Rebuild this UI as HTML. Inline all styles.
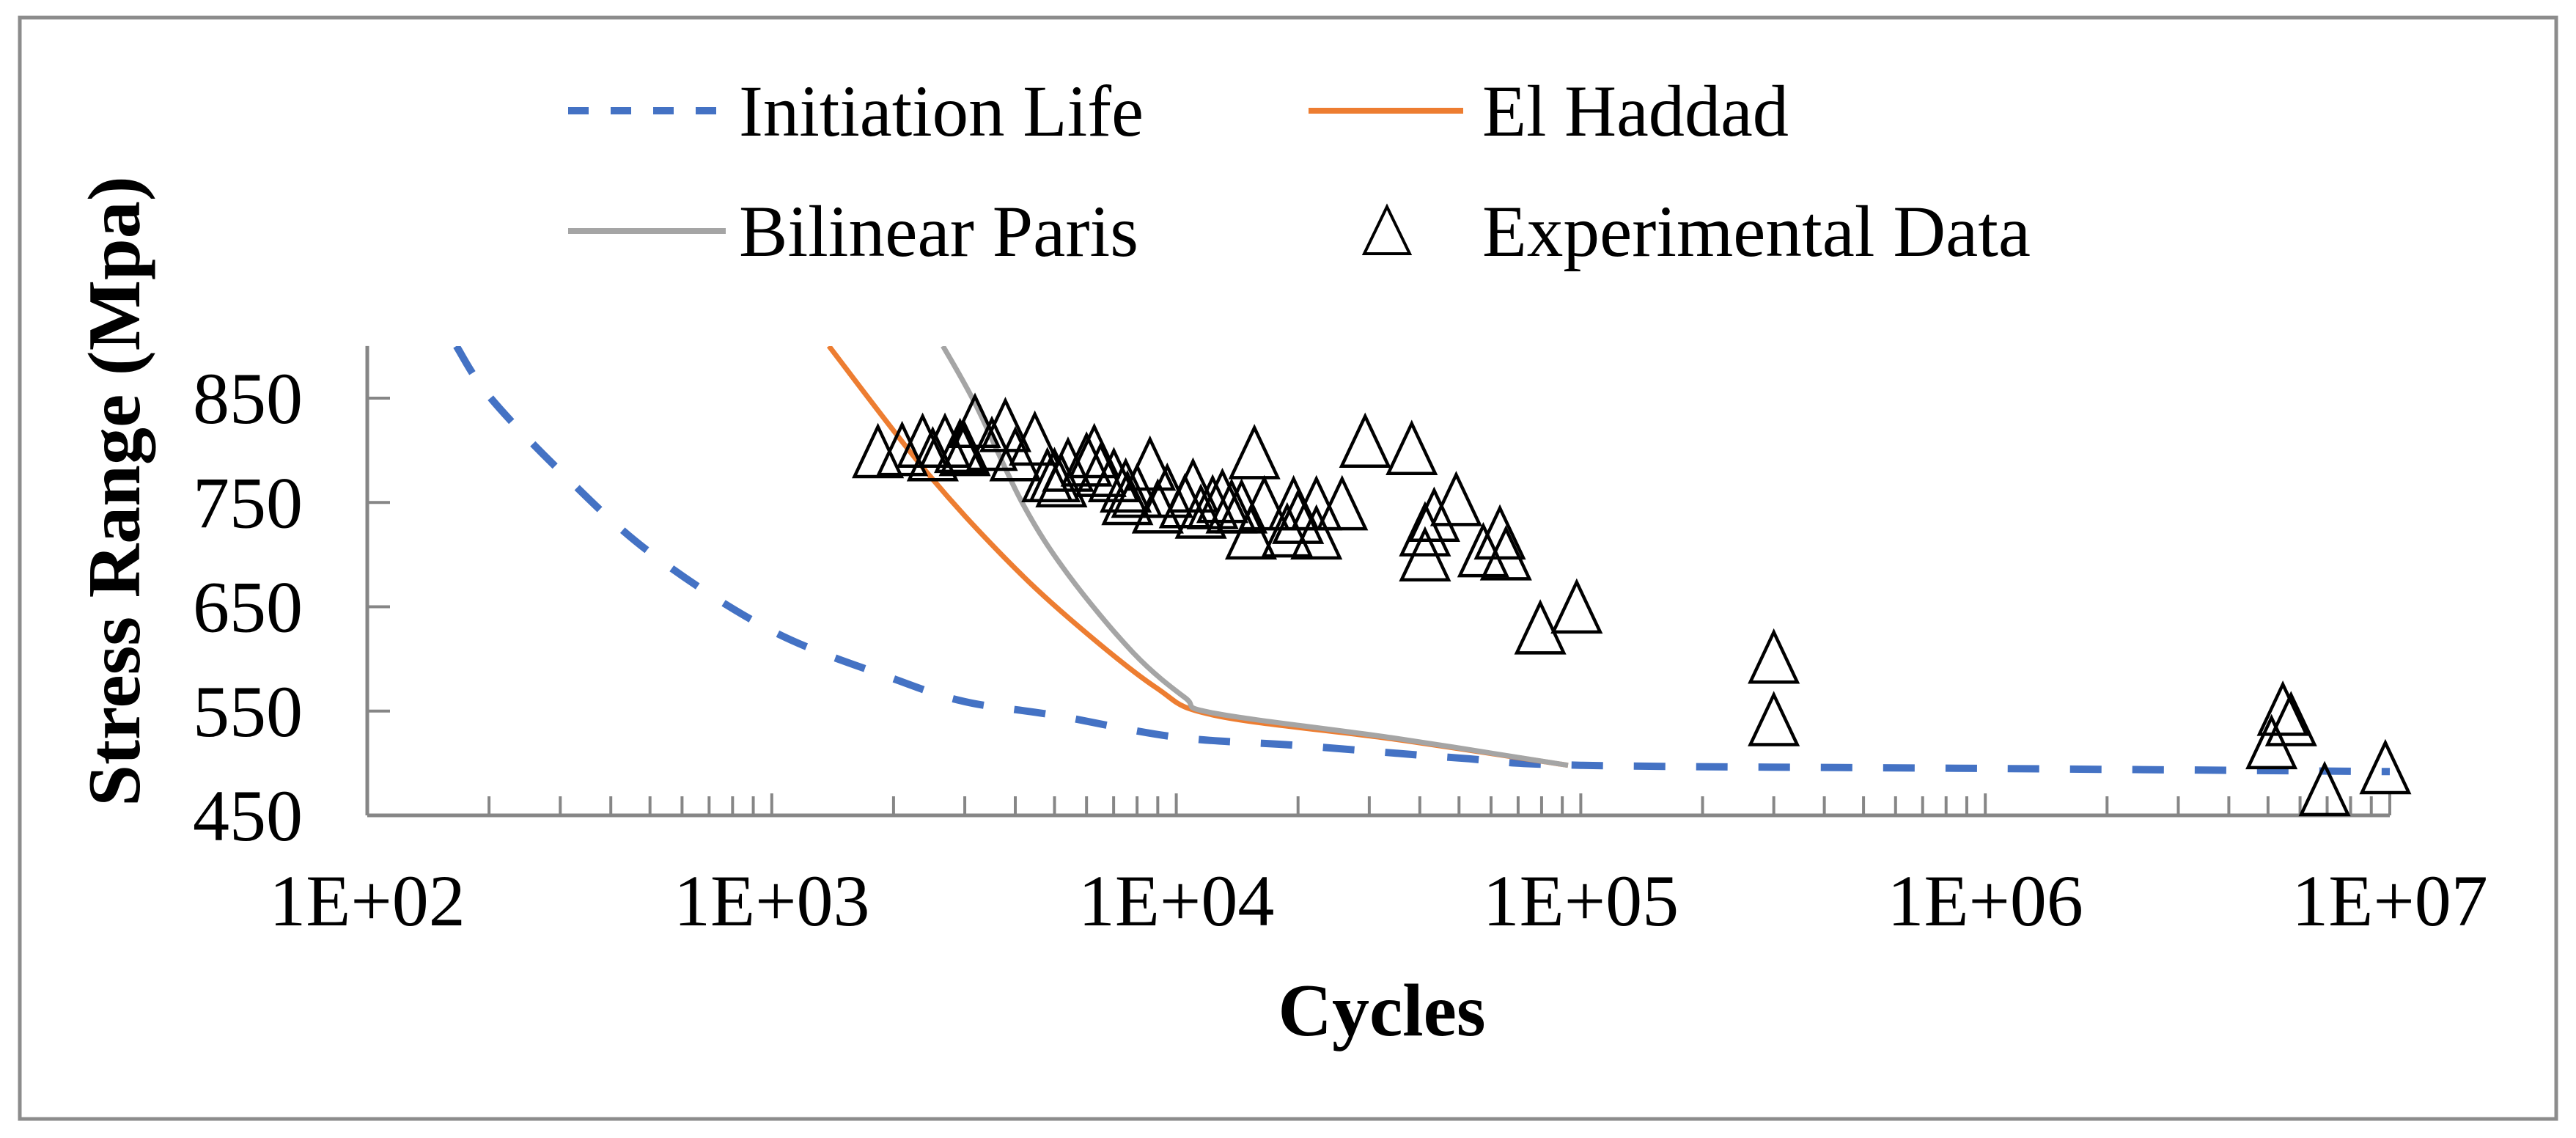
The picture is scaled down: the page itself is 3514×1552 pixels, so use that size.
<!DOCTYPE html>
<html><head><meta charset="utf-8"><style>
html,body{margin:0;padding:0;background:#fff;}
svg{display:block;}
text{font-family:"Liberation Serif","Times New Roman",serif;fill:#000;}
</style></head><body>
<svg id="chart" width="3514" height="1552" viewBox="0 0 3514 1552" xmlns="http://www.w3.org/2000/svg">
<rect x="27" y="24" width="3460" height="1502" fill="#fff" stroke="#8c8c8c" stroke-width="5"/>
<defs><clipPath id="plotclip"><rect x="501" y="472" width="2765" height="640"/></clipPath></defs>
<g id="legend">
 <g>
  <line x1="775" y1="151" x2="990" y2="151" stroke="#4472C4" stroke-width="10" stroke-dasharray="28,30"/>
  <text x="1008" y="185" font-size="100" textLength="552" lengthAdjust="spacingAndGlyphs">Initiation Life</text>
 </g>
 <g>
  <line x1="1785" y1="151" x2="1996" y2="151" stroke="#ED7D31" stroke-width="8"/>
  <text x="2022" y="185" font-size="100" textLength="418" lengthAdjust="spacingAndGlyphs">El Haddad</text>
 </g>
 <g>
  <line x1="775" y1="315" x2="990" y2="315" stroke="#A5A5A5" stroke-width="8"/>
  <text x="1008" y="349" font-size="100" textLength="545" lengthAdjust="spacingAndGlyphs">Bilinear Paris</text>
 </g>
 <g>
  <path d="M1892,282 L1923,346 L1861,346 Z" fill="none" stroke="#000" stroke-width="4"/>
  <text x="2022" y="349" font-size="100" textLength="748" lengthAdjust="spacingAndGlyphs">Experimental Data</text>
 </g>
</g>
<g id="axes"></g>
<g id="series" clip-path="url(#plotclip)"></g>
<g id="markers"></g>
<text transform="translate(190,670) rotate(-90)" text-anchor="middle" font-size="102" font-weight="bold">Stress Range (Mpa)</text>
<text x="1885" y="1412" text-anchor="middle" font-size="102" font-weight="bold">Cycles</text>
</svg>
<script>
const yTicks = [450, 550, 650, 750, 850];
const xTickExps = [2, 3, 4, 5, 6, 7];
const xTickLabels = ["1E+02", "1E+03", "1E+04", "1E+05", "1E+06", "1E+07"];
const initN = [166, 200, 300, 500, 1000, 2000, 3000, 5000, 10000, 20000, 50000, 100000, 1000000, 10000000];
const initS = [900, 852, 780, 702, 627, 581, 559, 546, 525, 517, 505, 498, 495, 492];
const hadN = [1384, 2380, 3720, 5470, 8870, 12400, 34700, 93000];
const hadS = [900, 782, 699, 638, 573, 546, 523, 498];
const parN = [2650, 3200, 4170, 5400, 7820, 10500, 12400, 34700, 93000];
const parS = [900, 843, 749, 681, 606, 563, 548, 524, 498];
const expN = [1830, 2100, 2360, 2500, 2680, 2920, 3000, 3180, 3500, 3780, 4000, 4470, 4800, 5000, 5200, 5400, 6000, 6270, 6500, 7010, 7500, 7570, 8000, 8610, 9000, 9500, 10500, 11000, 11500, 12300, 13000, 13700, 14500, 15300, 15600, 16500, 18800, 19500, 20000, 22200, 22200, 25700, 29300, 38200, 41200, 41200, 43400, 49200, 57400, 63100, 65300, 79400, 97700, 300000, 300000, 5100000, 5440000, 5700000, 6900000, 9750000];
const expS = [798, 800, 808, 795, 808, 803, 800, 827, 805, 823, 795, 810, 775, 775, 770, 785, 790, 798, 780, 775, 765, 753, 760, 786, 745, 760, 750, 765, 740, 749, 755, 745, 745, 720, 797, 748, 722, 748, 735, 748, 720, 748, 808, 801, 723, 699, 737, 752, 703, 720, 700, 629, 649, 601, 541, 519, 551, 541, 474, 495];

const X0 = 501, DEC = 551.8, Y0 = 1112, YK = 1.4225;
function xs(n){ return X0 + (Math.log10(n) - 2) * DEC; }
function ys(v){ return Y0 - (v - 450) * YK; }
const NS = "http://www.w3.org/2000/svg";
function mk(tag, attrs, parent){
  const e = document.createElementNS(NS, tag);
  for (const k in attrs) e.setAttribute(k, attrs[k]);
  parent.appendChild(e);
  return e;
}
const axes = document.getElementById('axes');
const series = document.getElementById('series');
const markers = document.getElementById('markers');

const yAxis = mk('line', {x1: X0, y1: ys(900), x2: X0, y2: Y0, stroke: '#868686', 'stroke-width': 5}, axes);


const xAxis = mk('line', {x1: X0, y1: Y0, x2: xs(1e7), y2: Y0, stroke: '#868686', 'stroke-width': 5}, axes);



yTicks.forEach(function(v){
  const t = mk('line', {x1: X0, y1: ys(v), x2: X0 + 31, y2: ys(v), stroke: '#868686', 'stroke-width': 4}, axes);
  
  
  const l = mk('text', {x: 413, y: ys(v) + 34, 'text-anchor': 'end', 'font-size': 100}, axes);
  l.textContent = v;
  
  
});
xTickExps.forEach(function(e, i){
  if (i > 0) {
    for (let m = 2; m <= 10; m++) {
      const n = Math.pow(10, xTickExps[i-1]) * m;
      const t = mk('line', {x1: xs(n), y1: Y0, x2: xs(n), y2: Y0 - (m === 10 ? 30 : 26), stroke: '#868686', 'stroke-width': 4}, axes);
      
      
    }
  }
  const l = mk('text', {x: xs(Math.pow(10, e)), y: 1262, 'text-anchor': 'middle', 'font-size': 100}, axes);
  l.textContent = xTickLabels[i];
  
  
});

function smoothPath(N, S){
  const P = N.map(function(n, i){ return [xs(n), ys(S[i])]; });
  let d = 'M' + P[0][0].toFixed(1) + ',' + P[0][1].toFixed(1);
  for (let i = 0; i < P.length - 1; i++) {
    const p0 = P[Math.max(0, i-1)], p1 = P[i], p2 = P[i+1], p3 = P[Math.min(P.length-1, i+2)];
    const c1x = p1[0] + (p2[0] - p0[0]) / 6, c1y = p1[1] + (p2[1] - p0[1]) / 6;
    const c2x = p2[0] - (p3[0] - p1[0]) / 6, c2y = p2[1] - (p3[1] - p1[1]) / 6;
    d += ' C' + c1x.toFixed(1) + ',' + c1y.toFixed(1) + ' ' + c2x.toFixed(1) + ',' + c2y.toFixed(1) + ' ' + p2[0].toFixed(1) + ',' + p2[1].toFixed(1);
  }
  return d;
}
const lineInit = mk('path', {d: smoothPath(initN, initS), fill: 'none', stroke: '#4472C4', 'stroke-width': 10, 'stroke-dasharray': '43,42'}, series);


const lineHad = mk('path', {d: smoothPath(hadN, hadS), fill: 'none', stroke: '#ED7D31', 'stroke-width': 7}, series);


const linePar = mk('path', {d: smoothPath(parN, parS), fill: 'none', stroke: '#A5A5A5', 'stroke-width': 7}, series);



expN.forEach(function(n, i){
  const cx = xs(n), cy = ys(expS[i]);
  const d = 'M' + cx + ',' + (cy - 35) + ' L' + (cx + 32) + ',' + (cy + 33) + ' L' + (cx - 32) + ',' + (cy + 33) + ' Z';
  const p = mk('path', {d: d, fill: 'none', stroke: '#000', 'stroke-width': 4.5, 'stroke-linejoin': 'miter'}, markers);
  
  
});
</script>
</body></html>
